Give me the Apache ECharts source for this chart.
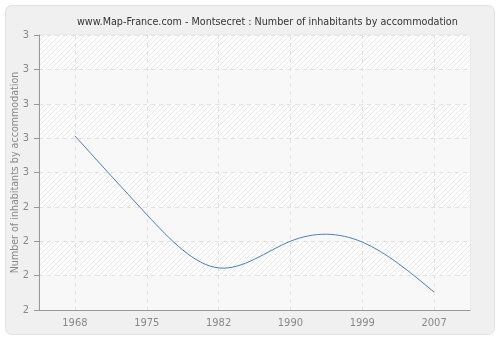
<!DOCTYPE html>
<html>
<head>
<meta charset="utf-8">
<script src="https://cdn.jsdelivr.net/npm/echarts@6/dist/echarts.min.js"></script>
<style>
  html, body { margin: 0; padding: 0; background: #ffffff; }
  #main { width: 500px; height: 340px; }
</style>
</head>
<body>
<div id="main"></div>
<script>
var years = ['1968', '1975', '1982', '1990', '1999', '2007'];
var inhabitants = [2.633, 2.347, 2.153, 2.25, 2.247, 2.065];

var FONT = 'DejaVu Sans Condensed';

// faint diagonal hatching for alternate plot bands
function hatch() {
	var c = document.createElement('canvas');
	c.width = 5; c.height = 5;
	var ctx = c.getContext('2d');
	ctx.fillStyle = '#fdfdfd';
	ctx.fillRect(0, 0, 5, 5);
	ctx.strokeStyle = '#ebebeb';
	ctx.lineWidth = 1;
	ctx.beginPath();
	ctx.moveTo(0, 5); ctx.lineTo(5, 0);
	ctx.moveTo(-1, 1); ctx.lineTo(1, -1);
	ctx.moveTo(4, 6); ctx.lineTo(6, 4);
	ctx.stroke();
	return c;
}

// natural cubic spline through the pixel points, returned as bezier path data
function splinePath(pts) {
	var n = pts.length;
	var h = pts[1][0] - pts[0][0];
	var M = new Array(n).fill(0);
	if (n > 2) {
		var c = [], d = [];
		for (var i = 1; i < n - 1; i++) {
			var rhs = 6 / (h * h) * (pts[i + 1][1] - 2 * pts[i][1] + pts[i - 1][1]);
			var den = 4 - (i > 1 ? c[i - 1] : 0);
			c[i] = 1 / den;
			d[i] = (rhs - (i > 1 ? d[i - 1] : 0)) / den;
		}
		for (var j = n - 2; j >= 1; j--) {
			M[j] = d[j] - (j < n - 2 ? c[j] * M[j + 1] : 0);
		}
	}
	var p = 'M' + pts[0][0] + ',' + pts[0][1];
	for (var k = 0; k < n - 1; k++) {
		var y0 = pts[k][1], y1 = pts[k + 1][1];
		var s = (y1 - y0) / h;
		var d0 = s - h * (2 * M[k] + M[k + 1]) / 6;
		var d1 = s + h * (M[k] + 2 * M[k + 1]) / 6;
		p += 'C' + (pts[k][0] + h / 3) + ',' + (y0 + d0 * h / 3) + ' ' +
			(pts[k + 1][0] - h / 3) + ',' + (y1 - d1 * h / 3) + ' ' +
			pts[k + 1][0] + ',' + y1;
	}
	return p;
}

var myChart = echarts.init(document.getElementById('main'));
var option = {
	backgroundColor: '#ffffff',
	animation: false,
	graphic: [{
		type: 'rect',
		z: -10,
		shape: { x: 5.5, y: 5.5, width: 489, height: 329, r: 6 },
		style: { fill: '#f0f0f0', stroke: '#e2e2e2', lineWidth: 1 }
	}],
	title: {
		text: 'www.Map-France.com - Montsecret : Number of inhabitants by accommodation',
		left: 72,
		top: 12,
		textStyle: {
			fontFamily: FONT,
			fontSize: 10.7,
			fontWeight: 'normal',
			color: '#333333'
		}
	},
	grid: {
		left: 39,
		right: 30,
		top: 35,
		bottom: 30,
		outerBoundsMode: 'none',
		containLabel: false,
		show: true,
		borderWidth: 1,
		borderColor: '#e4e4e4',
		backgroundColor: '#f8f8f8'
	},
	xAxis: {
		type: 'category',
		data: years,
		boundaryGap: true,
		axisLine: { lineStyle: { color: '#999999' } },
		axisTick: { alignWithLabel: true, length: 5, lineStyle: { color: '#999999' } },
		axisLabel: {
			color: '#888888',
			fontFamily: FONT,
			fontSize: 11,
			margin: 8
		},
		splitLine: {
			show: true,
			alignWithLabel: true,
			lineStyle: { color: '#e2e2e2', type: [4, 4] }
		}
	},
	yAxis: {
		type: 'value',
		min: 2,
		max: 3,
		interval: 0.125,
		name: 'Number of inhabitants by accommodation',
		nameLocation: 'middle',
		nameGap: 18,
		nameMoveOverlap: false,
		nameTextStyle: {
			color: '#888888',
			fontFamily: FONT,
			fontSize: 10.6
		},
		axisLine: { show: true, lineStyle: { color: '#999999' } },
		axisTick: { show: true, length: 5, lineStyle: { color: '#999999' } },
		axisLabel: {
			color: '#888888',
			fontFamily: FONT,
			fontSize: 11,
			margin: 10,
			formatter: function (v) { return Math.round(v); }
		},
		splitArea: {
			show: true,
			areaStyle: { color: ['#f8f8f8', { image: hatch(), repeat: 'repeat' }] }
		},
		splitLine: {
			show: true,
			lineStyle: { color: '#e2e2e2', type: [4, 4] }
		}
	},
	series: [{
		type: 'custom',
		data: inhabitants.map(function (v, i) { return [i, v]; }),
		renderItem: function (params, api) {
			if (params.dataIndex !== 0) return null;
			var pts = inhabitants.map(function (v, i) { return api.coord([i, v]); });
			return {
				type: 'path',
				shape: { pathData: splinePath(pts) },
				style: { fill: null, stroke: '#4f7fb3', lineWidth: 1 }
			};
		}
	}]
};
myChart.setOption(option);
</script>
</body>
</html>
